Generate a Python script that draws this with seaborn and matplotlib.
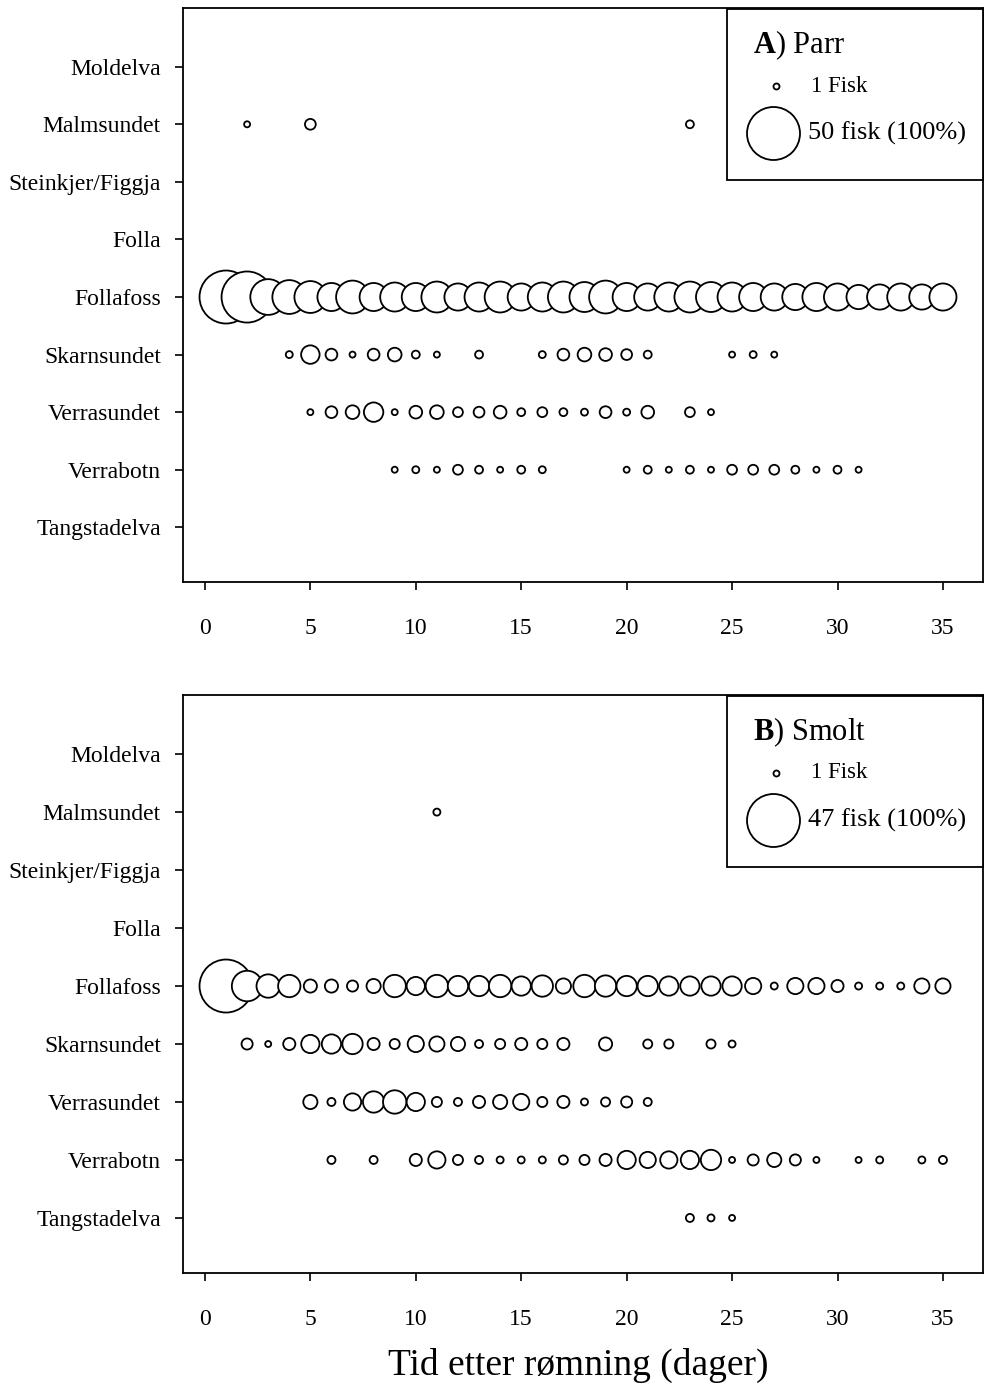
import numpy as np
import pandas as pd
import matplotlib
matplotlib.use("Agg")
import matplotlib.pyplot as plt
import seaborn as sns
from matplotlib.patches import Rectangle

# ==========================
# Data (antall fisk per dag)
# ==========================
steder = ["Moldelva", "Malmsundet", "Steinkjer/Figgja", "Folla", "Follafoss",
          "Skarnsundet", "Verrasundet", "Verrabotn", "Tangstadelva"]

# A) Parr, 50 fisk
parr_malmsundet_dag = [2, 5, 23]
parr_malmsundet_n = [1, 6, 3]
parr_follafoss_dag = list(range(1, 36))
parr_follafoss_n = [50, 48, 32, 30, 28, 24, 29, 24, 25, 24, 27, 23, 25, 27, 23, 25, 27, 26,
                    29, 24, 23, 25, 27, 26, 25, 24, 23, 22, 24, 23, 20, 21, 23, 21, 23]
parr_skarnsundet_dag = [4, 5, 6, 7, 8, 9, 10, 11, 13, 16, 17, 18, 19, 20, 21, 25, 26, 27]
parr_skarnsundet_n = [2, 14, 7, 1, 7, 9, 3, 1, 3, 2, 7, 9, 8, 6, 3, 1, 2, 1]
parr_verrasundet_dag = [5, 6, 7, 8, 9, 10, 11, 12, 13, 14, 15, 16, 17, 18, 19, 20, 21, 23, 24]
parr_verrasundet_n = [1, 7, 9, 15, 1, 8, 9, 5, 6, 8, 3, 5, 3, 2, 7, 2, 8, 5, 1]
parr_verrabotn_dag = [9, 10, 11, 12, 13, 14, 15, 16, 20, 21, 22, 23, 24, 25, 26, 27, 28, 29, 30, 31]
parr_verrabotn_n = [1, 2, 1, 5, 3, 1, 3, 2, 1, 3, 1, 3, 1, 5, 5, 5, 3, 1, 3, 1]

# B) Smolt, 47 fisk
smolt_malmsundet_dag = [11]
smolt_malmsundet_n = [2]
smolt_follafoss_dag = list(range(1, 36))
smolt_follafoss_n = [47, 25, 18, 17, 8, 8, 6, 9, 17, 13, 17, 15, 15, 17, 14, 16, 10, 17,
                     16, 15, 15, 14, 14, 14, 14, 11, 2, 11, 11, 7, 2, 2, 2, 10, 10]
smolt_skarnsundet_dag = [2, 3, 4, 5, 6, 7, 8, 9, 10, 11, 12, 13, 14, 15, 16, 17, 19, 21, 22, 24, 25]
smolt_skarnsundet_n = [6, 1, 7, 13, 14, 15, 7, 5, 11, 10, 9, 3, 5, 7, 5, 7, 8, 4, 4, 4, 2]
smolt_verrasundet_dag = [5, 6, 7, 8, 9, 10, 11, 12, 13, 14, 15, 16, 17, 18, 19, 20, 21]
smolt_verrasundet_n = [9, 3, 12, 16, 18, 13, 5, 3, 7, 9, 11, 5, 7, 2, 4, 6, 3]
smolt_verrabotn_dag = [6, 8, 10, 11, 12, 13, 14, 15, 16, 17, 18, 19, 20, 21, 22, 23, 24,
                       25, 26, 27, 28, 29, 31, 32, 34, 35]
smolt_verrabotn_n = [3, 3, 7, 12, 5, 3, 2, 2, 2, 4, 5, 7, 13, 11, 12, 13, 15,
                     1, 6, 9, 6, 1, 1, 2, 2, 3]
smolt_tangstadelva_dag = [23, 24, 25]
smolt_tangstadelva_n = [3, 2, 1]

parr_total = 50
smolt_total = 47


def lag_tabell(rader):
    biter = []
    for sted, dag, n in rader:
        biter.append(pd.DataFrame({"sted": sted, "dag": dag, "n": n}))
    df = pd.concat(biter, ignore_index=True)
    df["pos"] = df["sted"].map({s: i for i, s in enumerate(steder)})
    return df.sort_values(["pos", "dag"], kind="stable")


parr = lag_tabell([
    ("Malmsundet", parr_malmsundet_dag, parr_malmsundet_n),
    ("Follafoss", parr_follafoss_dag, parr_follafoss_n),
    ("Skarnsundet", parr_skarnsundet_dag, parr_skarnsundet_n),
    ("Verrasundet", parr_verrasundet_dag, parr_verrasundet_n),
    ("Verrabotn", parr_verrabotn_dag, parr_verrabotn_n),
])
smolt = lag_tabell([
    ("Malmsundet", smolt_malmsundet_dag, smolt_malmsundet_n),
    ("Follafoss", smolt_follafoss_dag, smolt_follafoss_n),
    ("Skarnsundet", smolt_skarnsundet_dag, smolt_skarnsundet_n),
    ("Verrasundet", smolt_verrasundet_dag, smolt_verrasundet_n),
    ("Verrabotn", smolt_verrabotn_dag, smolt_verrabotn_n),
    ("Tangstadelva", smolt_tangstadelva_dag, smolt_tangstadelva_n),
])

# ==========================
# Figur
# ==========================
sns.set_style("white")
plt.rcParams["font.family"] = ["Liberation Serif", "DejaVu Serif"]
plt.rcParams["mathtext.fontset"] = "custom"
plt.rcParams["mathtext.rm"] = "Liberation Serif"
plt.rcParams["mathtext.bf"] = "Liberation Serif:bold"
for k in ["text.color", "axes.labelcolor", "xtick.color", "ytick.color"]:
    plt.rcParams[k] = "black"

W, H = 987, 1387
fig = plt.figure(figsize=(W / 100, H / 100), dpi=100)
PX = 0.72  # punkt per piksel
VENSTRE, HOYRE = 183, 983

D_MIN, D_MAX = 6.0, 53.0  # diameter i piksler for 1 fisk og 100 %


def diameter(n, total):
    return D_MIN + (D_MAX - D_MIN) * (n - 1) / (total - 1)


def areal(n, total):
    return (diameter(n, total) * PX) ** 2


def panel(df, total, topp, bunn, bokstav, navn):
    ax = fig.add_axes([VENSTRE / W, 1 - bunn / H, (HOYRE - VENSTRE) / W,
                       (bunn - topp) / H])

    def ax_xy(px, py):
        return (px - VENSTRE) / (HOYRE - VENSTRE), (bunn - py) / (bunn - topp)

    storrelser = {n: areal(n, total) for n in df["n"].unique()}
    sns.scatterplot(data=df, x="dag", y="pos", size="n", sizes=storrelser,
                    color="white", edgecolor="black", linewidth=1.3,
                    legend=False, ax=ax, zorder=3)

    # forklaring
    lx0, ly0 = ax_xy(727, topp + 172)
    lx1, ly1 = ax_xy(983, topp + 1)
    ax.add_patch(Rectangle((lx0, ly0), lx1 - lx0, ly1 - ly0,
                           transform=ax.transAxes, facecolor="white",
                           edgecolor="black", linewidth=1.3, zorder=5,
                           clip_on=False))
    tx, ty = ax_xy(753, topp + 37)
    ax.text(tx, ty, r"$\mathbf{" + bokstav + "}$) " + navn, fontsize=22,
            va="center", ha="left", zorder=6, transform=ax.transAxes)
    cx, cy = ax_xy(776, topp + 78)
    ax.scatter([cx], [cy], s=areal(1, total), transform=ax.transAxes,
               facecolor="white", edgecolor="black", linewidth=1.3,
               zorder=6, clip_on=False)
    tx, ty = ax_xy(811, topp + 78)
    ax.text(tx, ty, "1 Fisk", fontsize=16.5, va="center", ha="left",
            zorder=6, transform=ax.transAxes)
    cx, cy = ax_xy(773, topp + 125)
    ax.scatter([cx], [cy], s=areal(total, total), transform=ax.transAxes,
               facecolor="white", edgecolor="black", linewidth=1.3,
               zorder=6, clip_on=False)
    tx, ty = ax_xy(808, topp + 125)
    ax.text(tx, ty, f"{total} fisk (100%)", fontsize=19, va="center",
            ha="left", zorder=6, transform=ax.transAxes)

    ax.set_xlim(-1.04, 36.9)
    ax.set_ylim(8.95, -1.02)
    ax.set_xticks(range(0, 36, 5))
    ax.set_yticks(range(len(steder)))
    ax.set_yticklabels(steder)
    ax.set_xlabel("")
    ax.set_ylabel("")
    for s in ax.spines.values():
        s.set_color("black")
        s.set_linewidth(1.3)
    ax.tick_params(axis="both", direction="out", length=6, width=1.2,
                   color="black", labelsize=17, left=True, bottom=True)
    ax.tick_params(axis="x", pad=20)
    ax.tick_params(axis="y", pad=10)
    return ax


ax_a = panel(parr, parr_total, 8, 582, "A", "Parr")
ax_b = panel(smolt, smolt_total, 695, 1273, "B", "Smolt")

fig.text(578 / W, 1 - 1365 / H, "Tid etter rømning (dager)", fontsize=27,
         ha="center", va="center")

fig.savefig("out.png", dpi=100)
